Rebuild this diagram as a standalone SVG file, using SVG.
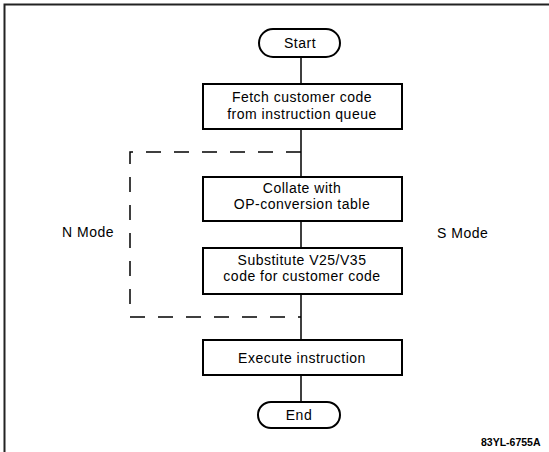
<svg xmlns="http://www.w3.org/2000/svg" width="549" height="452" viewBox="0 0 549 452">
<style>
.box{fill:#fff;stroke:#000;stroke-width:2}
.term{fill:#fff;stroke:#000;stroke-width:2}
.conn{stroke:#000;stroke-width:1.5;fill:none}
.dash{stroke:#000;stroke-width:1.5;fill:none;stroke-dasharray:15 13}
.t{font-family:"Liberation Sans",Arial,Helvetica,sans-serif;font-size:14px;letter-spacing:0.5px;fill:#000}
.c{text-anchor:middle}
.code{font-family:"Liberation Sans",Arial,Helvetica,sans-serif;font-size:10.5px;font-weight:bold;fill:#000}
</style>
<rect width="549" height="452" fill="#fff"/>
<path d="M4.5 452 V4.5 H549" fill="none" stroke="#222" stroke-width="2"/>
<g id="connectors">
<path class="conn" d="M301 57 V84 M301 129 V177 M301 221 V248 M301 294 V340 M301 375 V402"/>
<path class="dash" d="M301 152 H130 V317 H301"/>
</g>
<g id="start">
<rect class="term" x="259" y="29" width="81" height="28" rx="14"/>
<text class="t c" x="300" y="48">Start</text>
</g>
<g id="fetch">
<rect class="box" x="203" y="84" width="199" height="45"/>
<text class="t c" x="302" y="102">Fetch customer code</text>
<text class="t c" x="302" y="118.5">from instruction queue</text>
</g>
<g id="collate">
<rect class="box" x="203" y="177" width="199" height="44"/>
<text class="t c" x="302" y="193">Collate with</text>
<text class="t c" x="302" y="209">OP-conversion table</text>
</g>
<g id="substitute">
<rect class="box" x="203" y="248" width="199" height="46"/>
<text class="t c" x="302" y="265">Substitute V25/V35</text>
<text class="t c" x="302" y="281">code for customer code</text>
</g>
<g id="execute">
<rect class="box" x="203" y="340" width="199" height="35"/>
<text class="t c" x="302" y="362.5">Execute instruction</text>
</g>
<g id="end">
<rect class="term" x="258" y="402" width="82" height="26" rx="13"/>
<text class="t c" x="299" y="420">End</text>
</g>
<g id="labels">
<text class="t" x="62" y="237">N Mode</text>
<text class="t" x="437" y="238">S Mode</text>
<text class="code" x="481" y="446">83YL-6755A</text>
</g>
</svg>
